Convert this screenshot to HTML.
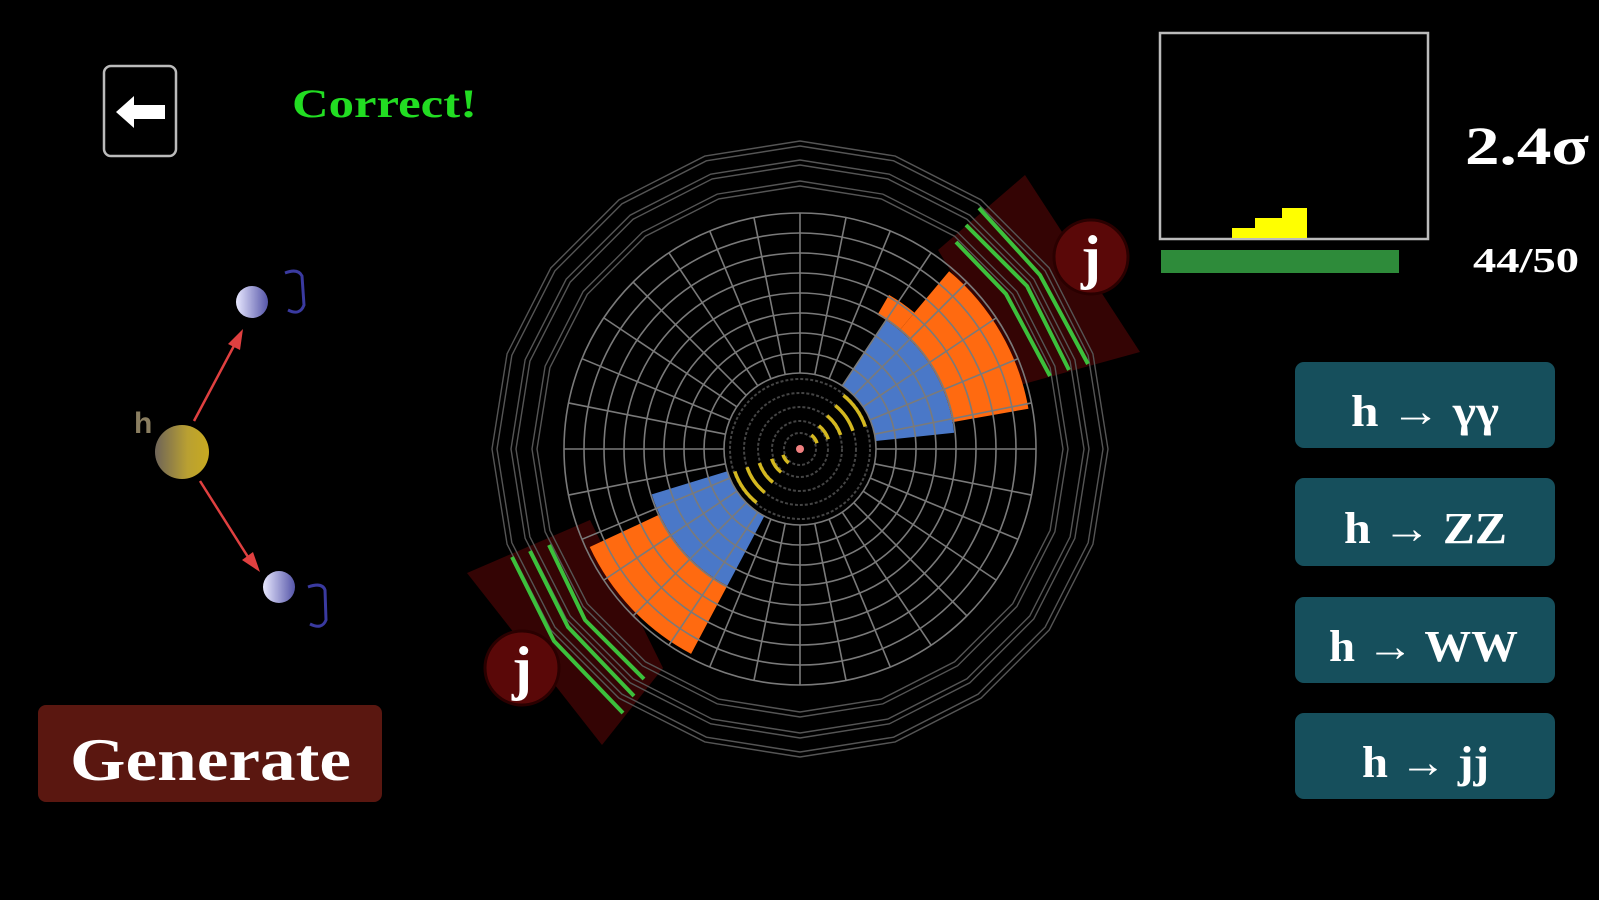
<!DOCTYPE html>
<html><head><meta charset="utf-8">
<style>
html,body{margin:0;padding:0;background:#000;width:1599px;height:900px;overflow:hidden}
svg{display:block}
.s{font-family:"Liberation Serif",serif;font-weight:bold}
</style></head>
<body>
<svg id="sv" width="1599" height="900" viewBox="0 0 1599 900" xmlns="http://www.w3.org/2000/svg">
<defs>
<linearGradient id="hg" x1="0" x2="1"><stop offset="0" stop-color="#6e6458"/><stop offset="0.6" stop-color="#b9a032"/><stop offset="1" stop-color="#c8aa20"/></linearGradient>
<linearGradient id="jg" x1="0" x2="1"><stop offset="0" stop-color="#e8e8ff"/><stop offset="1" stop-color="#5555a8"/></linearGradient>
</defs>
<rect width="1599" height="900" fill="#000"/>
<rect x="104" y="66" width="72" height="90" rx="7" fill="#000" stroke="#bbb" stroke-width="2.5"/>
<polygon points="116,112 134,96 134,105 165,105 165,119 134,119 134,128" fill="#fff"/>
<text x="292" y="117" class="s" font-size="40" fill="#22dd22" textLength="185" lengthAdjust="spacingAndGlyphs">Correct!</text>
<line x1="194" y1="421" x2="236" y2="342" stroke="#e04040" stroke-width="2.5"/>
<polygon points="243,329 228,344 240,350" fill="#e04040"/>
<line x1="200" y1="481" x2="248" y2="557" stroke="#e04040" stroke-width="2.5"/>
<polygon points="260,572 242,560 253,552" fill="#e04040"/>
<circle cx="182" cy="452" r="27" fill="url(#hg)"/>
<text x="134" y="433" font-family="Liberation Sans,sans-serif" font-weight="bold" font-size="30" fill="#8a7e60">h</text>
<circle cx="252" cy="302" r="16" fill="url(#jg)"/>
<circle cx="279" cy="587" r="16" fill="url(#jg)"/>
<path d="M285,273 Q298,268 302,276 L304,305 Q300,316 288,310" fill="none" stroke="#3a3aa0" stroke-width="3"/>
<path d="M308,587 Q322,582 325,590 L326,620 Q322,630 310,624" fill="none" stroke="#3a3aa0" stroke-width="3"/>
<rect x="38" y="705" width="344" height="97" rx="8" fill="#5a1710"/>
<text x="70" y="780" class="s" font-size="60" fill="#fff" textLength="281" lengthAdjust="spacingAndGlyphs">Generate</text>
<rect x="1160" y="33" width="268" height="206" fill="#000" stroke="#bbb" stroke-width="2.5"/>
<polygon points="1232,238 1232,228 1255,228 1255,218 1282,218 1282,208 1307,208 1307,238" fill="#ffff00"/>
<rect x="1161" y="250" width="238" height="23" fill="#2e8b3a"/>
<text x="1465" y="164" class="s" font-size="54" fill="#fff" textLength="124" lengthAdjust="spacingAndGlyphs">2.4σ</text>
<text x="1473" y="272" class="s" font-size="35" fill="#fff" textLength="106" lengthAdjust="spacingAndGlyphs">44/50</text>
<g class="s" font-size="44" fill="#fff">
<rect x="1295" y="362" width="260" height="86" rx="9" fill="#164f5c"/>
<text x="1351" y="426" textLength="148" lengthAdjust="spacingAndGlyphs">h → γγ</text>
<rect x="1295" y="478" width="260" height="88" rx="9" fill="#164f5c"/>
<text x="1344" y="543" textLength="163" lengthAdjust="spacingAndGlyphs">h → ZZ</text>
<rect x="1295" y="597" width="260" height="86" rx="9" fill="#164f5c"/>
<text x="1329" y="661" textLength="189" lengthAdjust="spacingAndGlyphs">h → WW</text>
<rect x="1295" y="713" width="260" height="86" rx="9" fill="#164f5c"/>
<text x="1362" y="777" textLength="127" lengthAdjust="spacingAndGlyphs">h → jj</text>
</g>
<g id="det"></g>
</svg>
<script>
var NS="http://www.w3.org/2000/svg",g=document.getElementById('det'),cx=800,cy=449;
function el(t,a){var e=document.createElementNS(NS,t);for(var k in a)e.setAttribute(k,a[k]);g.appendChild(e);return e;}
function P(r,a){a=a*Math.PI/180;return [cx+r*Math.cos(a),cy+r*Math.sin(a)];}
function sector(r1,r2,a1,a2,fill){var p1=P(r1,a1),p2=P(r2,a1),p3=P(r2,a2),p4=P(r1,a2);
el('path',{d:'M'+p1+' L'+p2+' A'+r2+' '+r2+' 0 0 1 '+p3+' L'+p4+' A'+r1+' '+r1+' 0 0 0 '+p1+'Z',fill:fill});}
el('polygon',{points:'938,250 1025,175 1140,352 1020,385',fill:'#340404'});
el('polygon',{points:'467,573 590,520 663,668 602,745',fill:'#340404'});
sector(76,155,-56,-6,'#4a78c8');
sector(155,232,-50,-10,'#ff6a10');
sector(155,178,-60,-50,'#ff6a10');
sector(76,155,118,163,'#4a78c8');
sector(155,232,118,155,'#ff6a10');
[263,268,284,289,303,308].forEach(function(r){var pts=[];for(var i=0;i<20;i++){pts.push(P(r,i*18).join(','));}
el('polygon',{points:pts.join(' '),fill:'none',stroke:'#555',"stroke-width":1.4});});
for(var r=76;r<=236;r+=20)el('circle',{cx:cx,cy:cy,r:r,fill:'none',stroke:'#7a7a7a',"stroke-width":1.6});
for(var i=0;i<32;i++){var a=P(76,i*11.25),b=P(236,i*11.25);el('line',{x1:a[0],y1:a[1],x2:b[0],y2:b[1],stroke:'#7a7a7a',"stroke-width":1.6});}
[16,28,42,56,70].forEach(function(r){el('circle',{cx:cx,cy:cy,r:r,fill:'none',stroke:'#444',"stroke-width":2,"stroke-dasharray":"3 2"});});
el('circle',{cx:cx,cy:cy,r:4,fill:'#f08080'});
[18,30,43,56,69].forEach(function(r){[-35,145].forEach(function(c){var a=P(r,c-16),b=P(r,c+16);
el('path',{d:'M'+a+' A'+r+' '+r+' 0 0 1 '+b,fill:'none',stroke:'#d4b820',"stroke-width":3.5});});});
['956,242 1006,294 1050,376','966,225 1027,286 1069,370','979,208 1040,275 1088,364',
 '512,557 554,641 623,713','530,551 568,627 634,696','549,545 585,620 644,679'].forEach(function(p){
el('polyline',{points:p,fill:'none',stroke:'#3cc03c',"stroke-width":4});});
[[1091,257],[522,668]].forEach(function(c){el('circle',{cx:c[0],cy:c[1],r:37,fill:'#5a0808',stroke:'#2a0000',"stroke-width":3});
var t=el('text',{x:c[0],y:c[1]+20,"text-anchor":"middle","class":"s","font-size":"60",fill:"#fff"});t.textContent='j';});
</script>
</body></html>
